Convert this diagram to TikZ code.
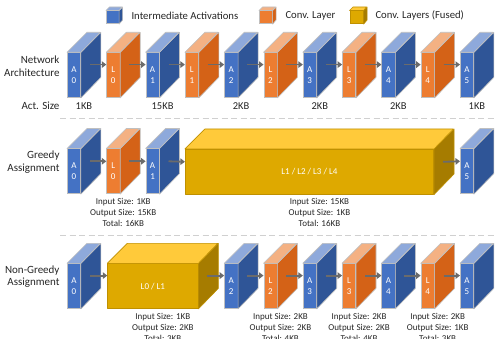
\documentclass[tikz,border=0pt]{standalone}
\usepackage{fontspec}
\setmainfont{Carlito}
\usetikzlibrary{arrows.meta,calc}

\definecolor{bluefront}{HTML}{4472C4}
\definecolor{bluetop}{HTML}{8EA9DB}
\definecolor{blueside}{HTML}{2F5597}
\definecolor{blueedge}{HTML}{BFBFBF}
\definecolor{orangefront}{HTML}{ED7D31}
\definecolor{orangetop}{HTML}{F4B183}
\definecolor{orangeside}{HTML}{D46217}
\definecolor{orangeedge}{HTML}{BFBFBF}
\definecolor{yellowfront}{HTML}{DEA900}
\definecolor{yellowtop}{HTML}{FFCA3A}
\definecolor{yellowside}{HTML}{A67C00}
\definecolor{yellowedge}{HTML}{BF9000}
\definecolor{arrgray}{HTML}{6B6B6B}
\definecolor{sepgray}{HTML}{D0D0D0}
\definecolor{txt}{HTML}{262626}

\tikzset{
  face/.style={line width=0.6pt, line join=round},
  front/.style={face, inner sep=0pt, anchor=north west, text=white,
    align=center, font=\fontsize{9}{11}\selectfont},
  arr/.style={draw=arrgray, line width=1.8pt, -{Triangle[length=4.5pt,width=6.5pt]}},
  sep/.style={draw=sepgray, line width=1pt, dash pattern=on 6pt off 3.5pt},
  rowlabel/.style={anchor=east, align=right, text=txt, font=\fontsize{11}{12.5}\selectfont},
  sizelabel/.style={text=txt, font=\fontsize{10.5}{12}\selectfont},
  info/.style={text=txt, align=center, font=\fontsize{9}{11}\selectfont},
  legendtext/.style={anchor=west, text=txt, font=\fontsize{10.7}{12}\selectfont},
}

% #1 name, #2 x, #3 top y, #4 width, #5 height, #6 depth, #7 colour set, #8 label
\newcommand\layerblock[8]{%
  \node[front, draw=#7edge, fill=#7front, minimum width=#4pt, minimum height=#5pt] (#1) at (#2,#3) {#8};
  \filldraw[face, draw=#7edge, fill=#7side] (#1.north east) -- ++(#6,-#6) -- ++(0,#5) -- (#1.south east) -- cycle;
  \filldraw[face, draw=#7edge, fill=#7top] (#1.north west) -- ++(#6,-#6) -- ++(#4,0) -- (#1.north east) -- cycle;
}
\newcommand\act[4]{\layerblock{#1}{#2}{#3}{13.3}{45}{20}{blue}{A\\#4}}
\newcommand\conv[4]{\layerblock{#1}{#2}{#3}{13.3}{45}{20}{orange}{L\\#4}}

\begin{document}
\begin{tikzpicture}[x=1pt,y=-1pt]
\useasboundingbox (0,0) rectangle (495,339);
\fill[white] (0,0) rectangle (495,339);

% legend
\layerblock{keyact}{106}{10.5}{12.5}{13}{3.5}{blue}{}
\node[legendtext] (keyacttext) at (128,15.5) {Intermediate Activations};
\layerblock{keyconv}{259}{10.5}{13}{13}{3.5}{orange}{}
\node[legendtext] (keyconvtext) at (282,15.5) {Conv. Layer};
\layerblock{keyfused}{349.5}{10.5}{13.5}{13}{3.5}{yellow}{}
\node[legendtext] (keyfusedtext) at (372,15.5) {Conv. Layers (Fused)};

% row 1: network architecture
\node[rowlabel] (lblnet) at (63,66) {Network\\Architecture};
\node[rowlabel, font=\fontsize{11}{12}\selectfont] (lblact) at (63,105.5) {Act. Size};
\act{na0}{67}{52.3}{0}
\conv{nl0}{106.3}{52.3}{0}
\act{na1}{145.6}{52.3}{1}
\conv{nl1}{184.9}{52.3}{1}
\act{na2}{224.2}{52.3}{2}
\conv{nl2}{263.5}{52.3}{2}
\act{na3}{302.8}{52.3}{3}
\conv{nl3}{342.1}{52.3}{3}
\act{na4}{381.4}{52.3}{4}
\conv{nl4}{420.7}{52.3}{4}
\act{na5}{460}{52.3}{5}
\foreach \a/\b in {na0/nl0,nl0/na1,na1/nl1,nl1/na2,na2/nl2,nl2/na3,na3/nl3,nl3/na4,na4/nl4,nl4/na5}
  \draw[arr] ([xshift=9pt,yshift=10.5pt]\a.east) -- ([yshift=10.5pt]\b.west);
\foreach \a/\s in {na0/1KB,na1/15KB,na2/2KB,na3/2KB,na4/2KB,na5/1KB}
  \node[sizelabel] (size-\a) at ($(\a.south)+(10,8.5)$) {\s};

\draw[sep] (60,119) -- (495,119);

% row 2: greedy assignment
\node[rowlabel] (lblgreedy) at (63,162) {Greedy\\Assignment};
\act{ga0}{67}{148.5}{0}
\conv{gl0}{106.3}{148.5}{0}
\act{ga1}{145.6}{148.5}{1}
\layerblock{gf}{184.9}{149}{248.5}{45}{20}{yellow}{L1 / L2 / L3 / L4}
\act{ga5}{460}{148.5}{5}
\foreach \a/\b in {ga0/gl0,gl0/ga1,ga1/gf,gf/ga5}
  \draw[arr] ([xshift=9pt,yshift=10pt]\a.east) -- ([yshift=10pt]\b.west);
\node[info] (infogl0) at ($(gl0.south)+(10,18)$) {Input Size: 1KB\\Output Size: 15KB\\Total: 16KB};
\node[info] (infogf) at ($(gf.south)+(10,18)$) {Input Size: 15KB\\Output Size: 1KB\\Total: 16KB};

\draw[sep] (60,235) -- (495,235);

% row 3: non-greedy assignment
\node[rowlabel] (lblnongreedy) at (63,276.5) {Non-Greedy\\Assignment};
\act{ka0}{67}{263.3}{0}
\layerblock{kf}{107.3}{263.3}{90.5}{45}{20}{yellow}{L0 / L1}
\act{ka2}{224.2}{263.3}{2}
\conv{kl2}{263.5}{263.3}{2}
\act{ka3}{302.8}{263.3}{3}
\conv{kl3}{342.1}{263.3}{3}
\act{ka4}{381.4}{263.3}{4}
\conv{kl4}{420.7}{263.3}{4}
\act{ka5}{460}{263.3}{5}
\foreach \a/\b in {ka0/kf,kf/ka2,ka2/kl2,kl2/ka3,ka3/kl3,kl3/ka4,ka4/kl4,kl4/ka5}
  \draw[arr] ([xshift=9pt,yshift=10.5pt]\a.east) -- ([yshift=10.5pt]\b.west);
\node[info] (infokf) at ($(kf.south)+(10,18.5)$) {Input Size: 1KB\\Output Size: 2KB\\Total: 3KB};
\node[info] (infokl2) at ($(kl2.south)+(10,18.5)$) {Input Size: 2KB\\Output Size: 2KB\\Total: 4KB};
\node[info] (infokl3) at ($(kl3.south)+(10,18.5)$) {Input Size: 2KB\\Output Size: 2KB\\Total: 4KB};
\node[info] (infokl4) at ($(kl4.south)+(10,18.5)$) {Input Size: 2KB\\Output Size: 1KB\\Total: 3KB};
\end{tikzpicture}
\end{document}
